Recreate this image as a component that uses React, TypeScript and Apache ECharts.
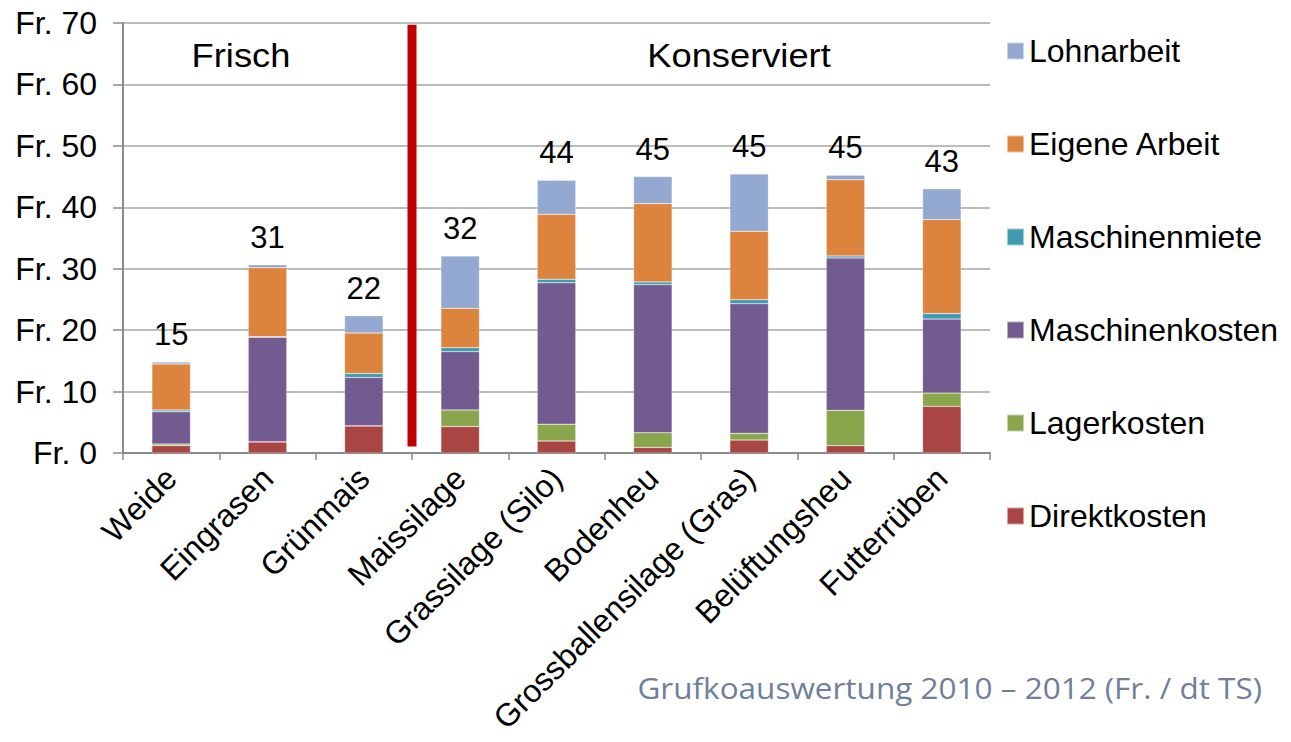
import React, { useEffect, useRef } from "react";
import * as echarts from "echarts";

const categories = [
  "Weide",
  "Eingrasen",
  "Grünmais",
  "Maissilage",
  "Grassilage (Silo)",
  "Bodenheu",
  "Grossballensilage (Gras)",
  "Belüftungsheu",
  "Futterrüben",
];
const direktkosten = [1.2, 1.8, 4.4, 4.3, 1.95, 0.9, 2.1, 1.2, 7.6];
const lagerkosten = [0.25, 0.05, 0.05, 2.7, 2.75, 2.4, 1.1, 5.75, 2.15];
const maschinenkosten = [5.25, 17.0, 7.85, 9.5, 23.0, 24.1, 21.1, 24.8, 12.05];
const maschinenmiete = [0.3, 0.1, 0.65, 0.65, 0.6, 0.45, 0.65, 0.33, 0.9];
const eigeneArbeit = [7.5, 11.2, 6.6, 6.4, 10.55, 12.75, 11.15, 12.4, 15.3];
const lohnarbeit = [0.3, 0.5, 2.8, 8.5, 5.55, 4.4, 9.3, 0.75, 5.0];

const seriesNames = [
  "Direktkosten",
  "Lagerkosten",
  "Maschinenkosten",
  "Maschinenmiete",
  "Eigene Arbeit",
  "Lohnarbeit",
];
const seriesColors = ["#A94543", "#8AA64D", "#735A8F", "#3F9AB2", "#DC843D", "#94A9D1"];
const groupLabels = ["Frisch", "Konserviert"];
const yTicks = { min: 0, max: 70, interval: 10 };
const dividerRange = [1.05, 69.7];
const footnote = "Grufkoauswertung 2010 – 2012 (Fr. / dt TS)";

const FONT = "'Liberation Sans', Arial, sans-serif";

export default function App() {
  const ref = useRef<HTMLDivElement>(null);
  useEffect(() => {
    if (!ref.current) return;
    const chart = echarts.init(ref.current, null, { renderer: "svg" });
    const dataSets = [direktkosten, lagerkosten, maschinenkosten, maschinenmiete, eigeneArbeit, lohnarbeit];
    const totals = categories.map((_, i) => dataSets.reduce((s, arr) => s + arr[i], 0));

    const series: any[] = dataSets.map((arr, si) => ({
      name: seriesNames[si],
      type: "bar",
      stack: "total",
      barWidth: "40%",
      data: arr,
      itemStyle: { color: seriesColors[si], borderColor: "rgba(255,255,255,0.5)", borderWidth: 0.5 },
      label:
        si === dataSets.length - 1
          ? {
              show: true,
              position: "top",
              distance: 12,
              fontSize: 31,
              fontFamily: FONT,
              color: "#000",
              formatter: (p: any) => String(Math.round(totals[p.dataIndex])),
            }
          : { show: false },
    }));

    chart.setOption({
      animation: false,
      backgroundColor: "#fff",
      grid: { left: 123, right: 301, top: 23, bottom: 289, containLabel: false },
      legend: {
        orient: "vertical",
        left: 1006,
        top: 34,
        padding: 0,
        itemWidth: 17,
        itemHeight: 17,
        itemGap: 59,
        icon: "rect",
        data: [...seriesNames].reverse(),
        textStyle: { fontSize: 32, fontFamily: FONT, color: "#000", lineHeight: 34 },
        selectedMode: false,
      },
      xAxis: {
        type: "category",
        data: categories,
        axisLine: { lineStyle: { color: "#8a8a8a", width: 2 } },
        axisTick: { show: true, length: 7, lineStyle: { color: "#8a8a8a", width: 1.5 } },
        axisLabel: {
          rotate: 45,
          interval: 0,
          fontSize: 32,
          fontFamily: FONT,
          color: "#000",
          margin: 20,
        },
      },
      yAxis: {
        type: "value",
        min: yTicks.min,
        max: yTicks.max,
        interval: yTicks.interval,
        axisLine: { show: true, lineStyle: { color: "#8a8a8a", width: 2 } },
        axisTick: { show: true, length: 10, lineStyle: { color: "#8a8a8a", width: 1.5 } },
        splitLine: { lineStyle: { color: "#a6a6a6", width: 1.5 } },
        axisLabel: {
          formatter: "Fr. {value}",
          fontSize: 32,
          fontFamily: FONT,
          color: "#000",
          margin: 26,
        },
      },
      series,
    });

    const x2 = chart.convertToPixel({ xAxisIndex: 0 }, 2) as number;
    const x3 = chart.convertToPixel({ xAxisIndex: 0 }, 3) as number;
    const xDiv = (x2 + x3) / 2;
    const yTop = chart.convertToPixel({ yAxisIndex: 0 }, dividerRange[1]) as number;
    const yBot = chart.convertToPixel({ yAxisIndex: 0 }, dividerRange[0]) as number;

    chart.setOption({
      graphic: [
        {
          type: "rect",
          shape: { x: xDiv - 4.5, y: yTop, width: 9, height: yBot - yTop },
          style: { fill: "#C00000" },
          z: 10,
        },
        {
          type: "text",
          x: 241,
          y: 56,
          scaleX: 1.1,
          style: {
            text: groupLabels[0],
            fontSize: 33,
            fontFamily: FONT,
            fill: "#000",
            align: "center",
            verticalAlign: "middle",
          },
        },
        {
          type: "text",
          x: 739,
          y: 56,
          scaleX: 1.1,
          style: {
            text: groupLabels[1],
            fontSize: 33,
            fontFamily: FONT,
            fill: "#000",
            align: "center",
            verticalAlign: "middle",
          },
        },
        {
          type: "text",
          x: 1262,
          y: 687,
          scaleX: 1.05,
          style: {
            text: footnote,
            fontSize: 30,
            fontFamily: "'Open Sans', 'DejaVu Sans', sans-serif",
            fill: "#6E809A",
            align: "right",
            verticalAlign: "middle",
          },
        },
      ],
    });

    return () => chart.dispose();
  }, []);

  return (
    <div
      ref={ref}
      style={{ position: "fixed", left: 0, top: 0, width: 1291, height: 742, background: "#fff" }}
    />
  );
}
